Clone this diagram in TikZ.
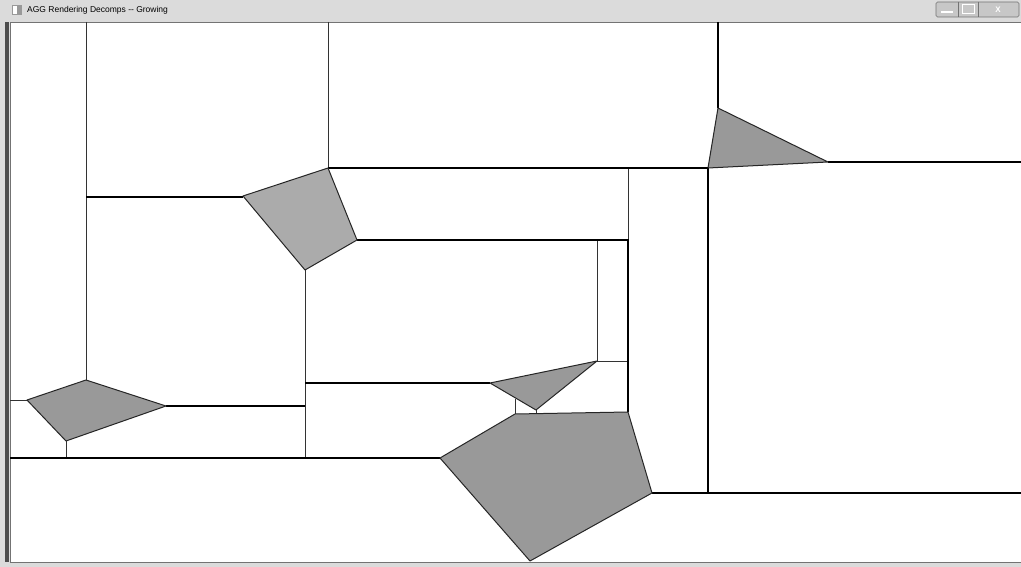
\documentclass[tikz,border=0pt]{standalone}
\usepackage{fontspec}
\setmainfont{Liberation Sans}
\tikzset{every node/.style={font=\fontsize{8.5}{10}\selectfont},
  frame/.style={fill=black!14,draw=none},
  cell/.style={draw=black!80,line width=0.8pt},
  wall/.style={draw=black,line width=1.5pt},
  piece/.style={draw=black!85,fill=black!40,line width=1pt,line join=round},
  lightpiece/.style={piece,fill=black!33},
  winbtn/.style={draw=black!55,fill=black!22,rounded corners=1.5pt,line width=0.6pt}}
\begin{document}
\begin{tikzpicture}[x=1pt,y=-1pt]
  \path[use as bounding box] (0,0) rectangle (1021,567);
  % window frame and title bar
  \fill[frame] (0,0) rectangle (1021,567);
  \fill[white] (10,22) rectangle (1021,562);
  \draw[black!55,line width=0.8pt] (10,22) rectangle (1021,562);
  \fill[black!70] (5,22) rectangle (9,562);
  \fill[black!40] (12,5) rectangle (22,15);
  \fill[white] (13,6) rectangle (17,14);
  \node[anchor=west,inner sep=0pt] (title) at (27,10.5) {AGG Rendering Decomps -{}- Growing};
  \draw[winbtn] (936,2) rectangle (1019,17);
  \draw[black!55,line width=0.6pt] (958,2) -- (958,17) (978,2) -- (978,17);
  \fill[white] (941,11) rectangle (953,13);
  \draw[white,line width=1pt] (962,5) rectangle (974,14);
  \node[text=white,font=\bfseries\fontsize{8}{9}\selectfont] (close) at (998,9.5) {X};
  % thin separators
  \draw[cell] (86,22) -- (86,380);
  \draw[cell] (328,22) -- (328,168);
  \draw[cell] (305,270) -- (305,458);
  \draw[cell] (597,240) -- (597,361) -- (628,361);
  \draw[cell] (628,168) -- (628,240);
  \draw[cell] (515,399) -- (515,414);
  \draw[cell] (536,410) -- (536,414);
  \draw[cell] (10,400) -- (27,400);
  \draw[cell] (66,441) -- (66,458);
  % thick boundaries
  \draw[wall] (718,22) -- (718,108);
  \draw[wall] (86,197) -- (243,197);
  \draw[wall] (328,168) -- (708,168);
  \draw[wall] (828,162) -- (1021,162);
  \draw[wall] (708,168) -- (708,493);
  \draw[wall] (357,240) -- (628,240) -- (628,412);
  \draw[wall] (305,383) -- (490,383);
  \draw[wall] (166,406) -- (305,406);
  \draw[wall] (10,458) -- (440,458);
  \draw[wall] (652,493) -- (1021,493);
  % decomposition pieces
  \draw[lightpiece] (243,196) -- (328,168) -- (357,240) -- (305,270) -- cycle;
  \draw[piece] (718,108) -- (828,162) -- (708,168) -- cycle;
  \draw[piece] (490,383) -- (597,361) -- (536,410) -- cycle;
  \draw[piece] (27,400) -- (86,380) -- (166,406) -- (66,441) -- cycle;
  \draw[piece] (440,458) -- (515,414) -- (628,412) -- (652,493) -- (530,561) -- cycle;
\end{tikzpicture}
\end{document}
